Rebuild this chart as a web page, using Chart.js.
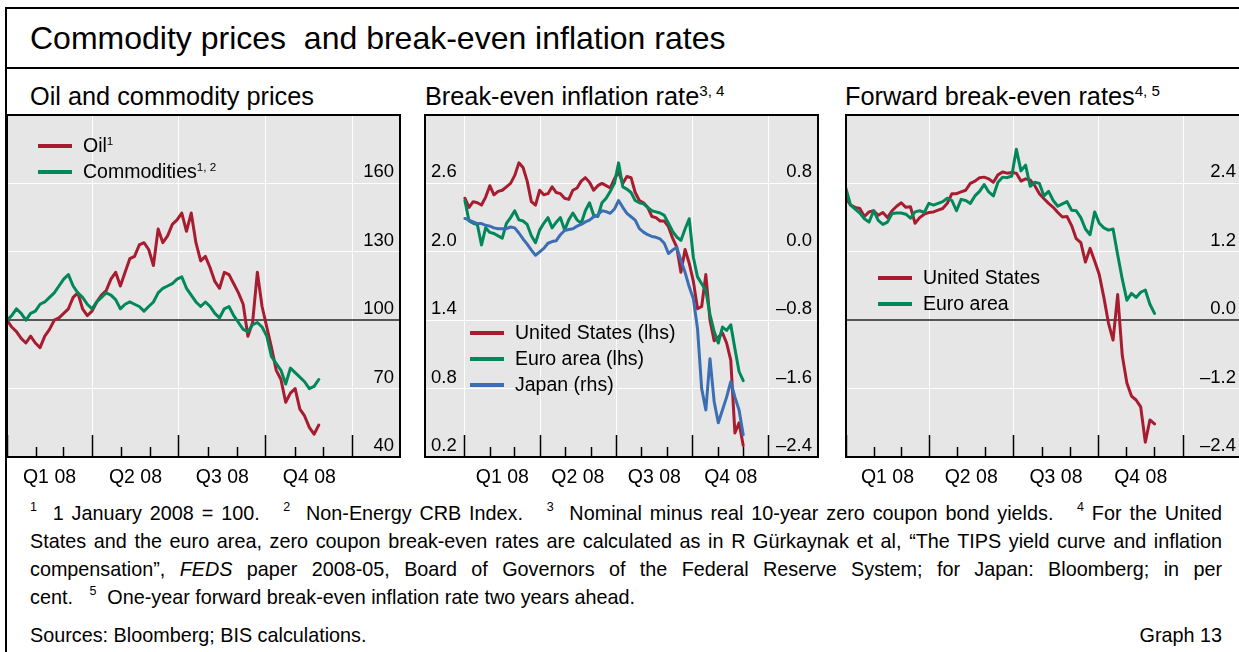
<!DOCTYPE html>
<html>
<head>
<meta charset="utf-8">
<script src="https://cdn.jsdelivr.net/npm/chart.js@4.4.1/dist/chart.umd.min.js"></script>
<style>
  html, body { margin: 0; padding: 0; background: #fff; }
  body { width: 1239px; height: 652px; position: relative; overflow: hidden;
         font-family: "Liberation Sans", Arial, Helvetica, sans-serif; color: #000; }
  .frame { position: absolute; left: 5px; top: 7px; width: 1260px; height: 700px;
           border: 2px solid #000; box-sizing: border-box; }
  .rule { position: absolute; left: 5px; top: 67px; width: 1260px; height: 2px; background: #000; }
  .title { position: absolute; left: 30px; top: 19px; font-size: 32px; line-height: 38px; white-space: pre; }
  .ptitle { position: absolute; top: 81px; font-size: 25.3px; line-height: 30px; white-space: nowrap; }
  .sup { font-size: 60%; position: relative; top: -0.6em; }
  canvas { position: absolute; }
  .legend { position: absolute; font-size: 19.5px; z-index: 2; }
  .legend div { height: 26px; line-height: 26px; white-space: nowrap; }
  .sw { display: inline-block; width: 34px; height: 4px; vertical-align: middle; margin-right: 11px; position: relative; top: -1px; }
  .notes { position: absolute; left: 30px; top: 499px; width: 1192px; font-size: 19.8px; }
  .notes div { height: 28px; line-height: 28px; text-align: justify; text-align-last: justify; white-space: nowrap; }
  .notes div.last { text-align-last: left; }
  .notes .fn { font-size: 12.5px; position: relative; top: -0.7em; }
  .src { position: absolute; left: 30px; top: 621px; width: 1192px; font-size: 19.8px; line-height: 28px; }
  .src span { position: absolute; right: 0; top: 0; }
</style>
</head>
<body>
<div class="frame"></div>
<div class="rule"></div>
<div class="title">Commodity prices  and break-even inflation rates</div>

<div class="ptitle" style="left:30px">Oil and commodity prices</div>
<div class="ptitle" style="left:425px">Break-even inflation rate<span class="sup">3, 4</span></div>
<div class="ptitle" style="left:845px">Forward break-even rates<span class="sup">4, 5</span></div>

<canvas id="c1" width="397" height="384" style="left:5px; top:113px"></canvas>
<canvas id="c2" width="397" height="384" style="left:423px; top:113px"></canvas>
<canvas id="c3" width="400" height="384" style="left:844px; top:113px"></canvas>

<div class="legend" style="left:38px; top:132px">
  <div><span class="sw" style="background:#a81c30"></span>Oil<span class="sup">1</span></div>
  <div><span class="sw" style="background:#00875a"></span>Commodities<span class="sup">1, 2</span></div>
</div>
<div class="legend" style="left:470px; top:319px">
  <div><span class="sw" style="background:#a81c30"></span>United States (lhs)</div>
  <div><span class="sw" style="background:#00875a"></span>Euro area (lhs)</div>
  <div><span class="sw" style="background:#3c6eb4"></span>Japan (rhs)</div>
</div>
<div class="legend" style="left:878px; top:264px">
  <div><span class="sw" style="background:#a81c30"></span>United States</div>
  <div><span class="sw" style="background:#00875a"></span>Euro area</div>
</div>

<div class="notes">
  <div><span class="fn">1</span>&nbsp; 1 January 2008 = 100. &nbsp; <span class="fn">2</span>&nbsp; Non-Energy CRB Index. &nbsp; <span class="fn">3</span>&nbsp; Nominal minus real 10-year zero coupon bond yields. &nbsp; <span class="fn">4</span>&nbsp;For the United</div>
  <div>States and the euro area, zero coupon break-even rates are calculated as in R Gürkaynak et al, “The TIPS yield curve and inflation</div>
  <div>compensation”, <i>FEDS</i> paper 2008-05, Board of Governors of the Federal Reserve System; for Japan: Bloomberg; in per</div>
  <div class="last">cent. &nbsp; <span class="fn">5</span>&nbsp; One-year forward break-even inflation rate two years ahead.</div>
</div>
<div class="src">Sources: Bloomberg; BIS calculations.<span>Graph 13</span></div>

<script>
// ── Data (x = days counted from 1 January 2008) ──────────────
const DAYS = [0, 5, 10, 15, 20, 25, 30, 35, 40, 45, 50, 55, 60, 65, 70, 75, 80, 85, 90, 95,
  100, 105, 110, 115, 120, 125, 130, 135, 140, 145, 150, 155, 160, 165, 170, 175, 180, 185, 190, 195,
  200, 205, 210, 215, 220, 225, 230, 235, 240, 245, 250, 255, 260, 265, 270, 275, 280, 285, 290, 295,
  300, 305, 310, 315, 320, 325, 330, 335];
const QUARTER_STARTS = [0, 91, 182, 274, 366];
const MONTH_STARTS = [31, 60, 121, 152, 213, 244, 305, 335];
const QUARTER_MIDS = [45, 136, 228, 320];
const QUARTER_LABELS = ['Q1 08', 'Q2 08', 'Q3 08', 'Q4 08'];

// Oil and commodity prices, 1 Jan 2008 = 100
const OIL = [100, 97, 95, 92, 90, 93, 90, 88, 93, 96,
  100, 101, 103, 105, 110, 112, 105, 102, 104, 108,
  111, 113, 118, 121, 115, 121, 127, 128, 133, 134,
  131, 124, 140, 134, 137, 142, 144, 147, 139, 147,
  134, 126, 128, 123, 117, 114, 121, 120, 116, 112,
  107, 93, 99, 121, 106, 97, 88, 78, 74, 64,
  68, 70, 61, 58, 53, 50, 54, null];
const COMMODITIES = [100, 102, 105, 103, 100, 103, 104, 107, 108, 110,
  112, 115, 118, 120, 115, 112, 110, 107, 105, 108,
  110, 112, 111, 109, 105, 107, 108, 107, 106, 104,
  106, 108, 112, 114, 115, 116, 118, 119, 114, 111,
  108, 106, 108, 106, 103, 101, 105, 106, 102, 99,
  96, 95, 98, 99, 97, 93, 84, 81, 78, 72,
  79, 77, 75, 73, 70, 71, 74, null];

// Break-even inflation rates, per cent
const BE_US = [2.47, 2.39, 2.44, 2.43, 2.41, 2.48, 2.58, 2.50, 2.53, 2.54,
  2.57, 2.60, 2.67, 2.78, 2.74, 2.62, 2.44, 2.41, 2.54, 2.50,
  2.51, 2.57, 2.52, 2.51, 2.47, 2.46, 2.54, 2.56, 2.62, 2.65,
  2.61, 2.54, 2.58, 2.60, 2.58, 2.56, 2.64, 2.70, 2.60, 2.66,
  2.65, 2.52, 2.45, 2.43, 2.39, 2.31, 2.30, 2.27, 2.27, 2.22,
  2.12, 2.04, 1.82, 2.02, 1.90, 1.74, 1.50, 1.52, 1.80, 1.40,
  1.22, 1.25, 1.29, 1.20, 1.05, 0.41, 0.50, 0.30];
const BE_EURO = [2.45, 2.27, 2.25, 2.24, 2.06, 2.21, 2.17, 2.16, 2.14, 2.12,
  2.25, 2.30, 2.36, 2.28, 2.27, 2.24, 2.14, 2.08, 2.19, 2.25,
  2.30, 2.21, 2.26, 2.30, 2.19, 2.28, 2.34, 2.28, 2.25, 2.36,
  2.43, 2.32, 2.31, 2.43, 2.47, 2.53, 2.60, 2.78, 2.57, 2.55,
  2.52, 2.45, 2.43, 2.42, 2.39, 2.36, 2.35, 2.34, 2.32, 2.25,
  2.18, 2.13, 2.10, 2.20, 2.29, 1.95, 1.78, 1.72, 1.66, 1.45,
  1.30, 1.20, 1.34, 1.31, 1.36, 1.15, 0.95, 0.87];
const BE_JAPAN = [0.39, 0.37, 0.35, 0.33, 0.33, 0.31, 0.30, 0.28, 0.27, 0.27,
  0.27, 0.29, 0.28, 0.22, 0.15, 0.09, 0.02, -0.04, 0.00, 0.04,
  0.10, 0.12, 0.13, 0.20, 0.25, 0.26, 0.27, 0.30, 0.32, 0.35,
  0.37, 0.41, 0.43, 0.48, 0.47, 0.45, 0.50, 0.60, 0.52, 0.45,
  0.41, 0.37, 0.27, 0.23, 0.20, 0.18, 0.17, 0.15, 0.10, -0.02,
  0.02, 0.05, -0.10, -0.24, -0.41, -0.55, -0.90, -1.60, -1.85, -1.25,
  -1.75, -2.00, -1.85, -1.70, -1.52, -1.70, -1.85, -2.14];

// Forward break-even rates, per cent
const FWD_US = [2.14, 2.02, 1.98, 1.96, 1.82, 1.90, 1.92, 1.84, 1.89, 1.80,
  1.92, 2.00, 2.06, 1.98, 1.99, 1.70, 1.80, 1.86, 1.89, 1.90,
  1.93, 1.96, 2.05, 2.22, 2.22, 2.25, 2.28, 2.40, 2.44, 2.50,
  2.51, 2.48, 2.42, 2.55, 2.60, 2.58, 2.59, 2.58, 2.44, 2.48,
  2.46, 2.36, 2.22, 2.13, 2.05, 1.98, 1.89, 1.81, 1.82, 1.66,
  1.43, 1.36, 1.02, 1.26, 1.04, 0.80, 0.40, -0.05, -0.35, 0.45,
  -0.62, -1.10, -1.33, -1.40, -1.52, -2.14, -1.75, -1.82];
const FWD_EURO = [2.31, 2.02, 1.95, 1.88, 1.78, 1.72, 1.92, 1.75, 1.68, 1.72,
  1.87, 1.88, 1.88, 1.86, 1.79, 1.90, 1.92, 1.89, 2.05, 2.02,
  2.05, 2.08, 2.14, 2.10, 1.92, 2.12, 2.10, 2.05, 2.18, 2.26,
  2.38, 2.25, 2.18, 2.42, 2.51, 2.50, 2.53, 3.00, 2.62, 2.72,
  2.35, 2.42, 2.40, 2.18, 2.26, 2.10, 2.00, 2.04, 2.08, 1.93,
  1.92, 1.80, 1.60, 1.50, 1.90, 1.70, 1.62, 1.58, 1.60, 1.15,
  0.72, 0.35, 0.47, 0.40, 0.49, 0.53, 0.28, 0.12];

const P1_TICKS = [40, 70, 100, 130, 160];
const P2_LEFT_TICKS = [0.2, 0.8, 1.4, 2.0, 2.6];
const P2_RIGHT_TICKS = [-2.4, -1.6, -0.8, 0.0, 0.8];
const P3_TICKS = [-2.4, -1.2, 0.0, 1.2, 2.4];

// ── Styling ──────────────────────────────────────────────────
const RED = '#a81c30', GREEN = '#00875a', BLUE = '#3c6eb4';
const PANEL_BG = '#e6e6e6', ZERO_LINE = '#555555';
const FONT = "'Liberation Sans', Arial, Helvetica, sans-serif";

Chart.defaults.font.family = FONT;
Chart.defaults.color = '#000';

// grey plot box with a black frame
const boxPlugin = {
  id: 'box',
  beforeDraw(chart) {
    const { ctx, chartArea: a } = chart;
    ctx.save();
    ctx.fillStyle = PANEL_BG;
    ctx.fillRect(a.left, a.top, a.width, a.height);
    ctx.restore();
  },
  afterDraw(chart) {
    const { ctx, chartArea: a } = chart;
    ctx.save();
    ctx.strokeStyle = '#000';
    ctx.lineWidth = 2;
    ctx.strokeRect(a.left, a.top, a.width, a.height);
    ctx.restore();
  },
};

const fmt1 = v => (v < 0 ? '\u2013' + Math.abs(v).toFixed(1) : v.toFixed(1));
const pts = vals => DAYS.map((d, i) => ({ x: d, y: vals[i] })).filter(p => p.y != null);

// axes take no room: the plot box is placed by the canvas position
const flat = (w, h) => s => {
  if (w != null) s.width = w;
  if (h != null) s.height = h;
  s.paddingTop = s.paddingBottom = s.paddingLeft = s.paddingRight = 0;
};

function series(vals, color, axis) {
  return {
    data: pts(vals), yAxisID: axis || 'y',
    borderColor: color, borderWidth: 3, pointRadius: 0, tension: 0,
    borderJoinStyle: 'round', borderCapStyle: 'round',
  };
}

function xAxes(min, max) {
  return {
    x: {
      type: 'linear', position: 'bottom', min, max, weight: 0,
      afterFit: flat(null, 0),
      afterBuildTicks: s => { s.ticks = QUARTER_STARTS.map(v => ({ value: v })); },
      ticks: { display: false }, border: { display: false },
      grid: { color: '#fff', lineWidth: 1, drawTicks: true, tickLength: -22, tickColor: '#000', tickWidth: 1.5 },
    },
    xm: {
      type: 'linear', position: 'bottom', min, max, weight: 1,
      afterFit: flat(null, 0),
      afterBuildTicks: s => { s.ticks = MONTH_STARTS.map(v => ({ value: v })); },
      ticks: { display: false }, border: { display: false },
      grid: { drawOnChartArea: false, drawTicks: true, tickLength: -10, tickColor: '#000', tickWidth: 1.5 },
    },
    xl: {
      type: 'linear', position: 'bottom', min, max, weight: 10,
      afterFit: flat(null, 40),
      afterBuildTicks: s => { s.ticks = QUARTER_MIDS.map(v => ({ value: v })); },
      border: { display: false },
      grid: { display: false, drawTicks: false },
      ticks: { autoSkip: false, maxRotation: 0, padding: 9, font: { size: 19.5 },
               callback: (v, i) => QUARTER_LABELS[i] },
    },
  };
}

function yAxis(position, min, max, ticks, fmt, zeroAt, showGrid) {
  return {
    type: 'linear', position, min, max,
    afterFit: flat(0, null),
    afterBuildTicks: s => { s.ticks = ticks.map(v => ({ value: v })); },
    border: { display: false },
    grid: {
      display: showGrid, drawTicks: false,
      color: c => (c.tick && c.tick.value === zeroAt ? ZERO_LINE : '#fff'),
      lineWidth: c => (c.tick && c.tick.value === zeroAt ? 2 : 1),
    },
    ticks: { mirror: true, padding: position === 'right' ? -6 : 6, labelOffset: -11,
             font: { size: 18.5 }, callback: v => fmt(v) },
  };
}

function panel(id, datasets, scales) {
  new Chart(document.getElementById(id), {
    type: 'line',
    data: { datasets },
    options: {
      responsive: false, animation: false,
      layout: { padding: { left: 2, right: 2, top: 2, bottom: 0 } },
      plugins: { legend: { display: false }, tooltip: { enabled: false } },
      scales,
    },
    plugins: [boxPlugin],
  });
}

// ── Oil and commodity prices ─────────────────────────────────
panel('c1',
  [series(COMMODITIES, GREEN), series(OIL, RED)],
  { ...xAxes(0, 416), y: yAxis('right', 40, 190, P1_TICKS, v => String(v), 100, true) });

// ── Break-even inflation rate ────────────────────────────────
panel('c2',
  [series(BE_JAPAN, BLUE, 'y1'), series(BE_EURO, GREEN), series(BE_US, RED)],
  { ...xAxes(-48, 425),
    y: yAxis('left', 0.2, 3.2, P2_LEFT_TICKS, fmt1, null, true),
    y1: yAxis('right', -2.4, 1.6, P2_RIGHT_TICKS, fmt1, null, false) });

// ── Forward break-even rates ─────────────────────────────────
panel('c3',
  [series(FWD_EURO, GREEN), series(FWD_US, RED)],
  { ...xAxes(0, 430), y: yAxis('right', -2.4, 3.6, P3_TICKS, fmt1, 0, true) });
</script>
</body>
</html>
